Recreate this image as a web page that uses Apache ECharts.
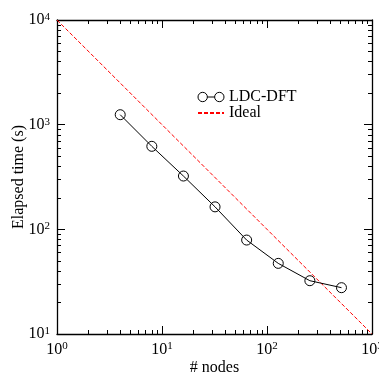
<!DOCTYPE html>
<html>
<head>
<meta charset="utf-8">
<script src="https://cdn.jsdelivr.net/npm/echarts@6/dist/echarts.min.js"></script>
<style>
  html, body { margin: 0; padding: 0; background: #fff; }
  #chart { width: 379px; height: 373px; }
</style>
</head>
<body>
<div id="chart"></div>
<script>
const nodes = [4, 8, 16, 32, 64, 128, 256, 512]
const elapsed = [1245, 621, 323, 164, 79, 47.3, 32.3, 27.7]
const idealNodes = [1, 1000]
const idealTime = [10000, 10]

const font = 'Liberation Serif'
const labelRich = {
  b: { fontSize: 16, fontFamily: font, color: '#000' },
  s: { fontSize: 11, fontFamily: font, color: '#000', verticalAlign: 'top', padding: [0, 0, 6, 0] },
}
const powLabel = (v) => '{b|10}{s|' + Math.round(Math.log10(v)) + '}'

const makeAxis = (min, max, position, withLabel, extra) => Object.assign({
  type: 'log',
  logBase: 10,
  min,
  max,
  position,
  axisLine: { show: true, onZero: false, lineStyle: { color: '#000', width: 1.3 } },
  axisTick: { show: true, inside: true, length: 8, lineStyle: { color: '#000', width: 1 } },
  minorTick: { show: true, splitNumber: 9, length: 4, lineStyle: { color: '#000', width: 1 } },
  axisLabel: withLabel
    ? { show: true, formatter: powLabel, rich: labelRich, margin: 7 }
    : { show: false },
  splitLine: { show: false },
}, extra || {})

const chart = echarts.init(document.getElementById('chart'))
const option = {
  animation: false,
  backgroundColor: '#fff',
  grid: { left: 57, right: 7, top: 20, bottom: 39, containLabel: false, outerBoundsMode: 'none' },
  xAxis: [
    makeAxis(1, 1000, 'bottom', true, {
      name: '# nodes',
      nameLocation: 'middle',
      nameGap: 26,
      nameMoveOverlap: false,
      nameTextStyle: { fontFamily: font, fontSize: 16, color: '#000' },
    }),
    makeAxis(1, 1000, 'top', false),
  ],
  yAxis: [
    makeAxis(10, 10000, 'left', true, {
      name: 'Elapsed time (s)',
      nameLocation: 'middle',
      nameGap: 30,
      nameMoveOverlap: false,
      nameTextStyle: { fontFamily: font, fontSize: 16, color: '#000' },
    }),
    makeAxis(10, 10000, 'right', false),
  ],
  legend: {
    left: 197,
    top: 89,
    padding: 0,
    orient: 'vertical',
    itemWidth: 26,
    itemHeight: 10,
    itemGap: 0,
    textStyle: { fontFamily: font, fontSize: 16, color: '#000' },
    data: [
      {
        name: 'LDC-DFT',
        icon: 'path://M0.5,5 A4.5,4.5 0 1,0 9.5,5 A4.5,4.5 0 1,0 0.5,5 M9.5,5 L16.5,5 M16.5,5 A4.5,4.5 0 1,0 25.5,5 A4.5,4.5 0 1,0 16.5,5',
        itemStyle: { color: 'rgba(0,0,0,0)', borderColor: '#000', borderWidth: 1 },
      },
      { name: 'Ideal', itemStyle: { opacity: 0 } },
    ],
  },
  series: [
    {
      name: 'Ideal',
      type: 'line',
      xAxisIndex: 0,
      yAxisIndex: 0,
      data: idealNodes.map((n, i) => [n, idealTime[i]]),
      symbol: 'none',
      lineStyle: { color: '#ff0000', width: 1, type: [4, 2] },
      itemStyle: { color: '#ff0000' },
    },
    {
      name: 'LDC-DFT',
      type: 'line',
      xAxisIndex: 0,
      yAxisIndex: 0,
      data: nodes.map((n, i) => [n, elapsed[i]]),
      symbol: 'circle',
      symbolSize: 10,
      lineStyle: { color: '#000', width: 1 },
      itemStyle: { color: 'rgba(0,0,0,0)', borderColor: '#000', borderWidth: 1 },
    },
  ],
}
chart.setOption(option)
</script>
</body>
</html>
